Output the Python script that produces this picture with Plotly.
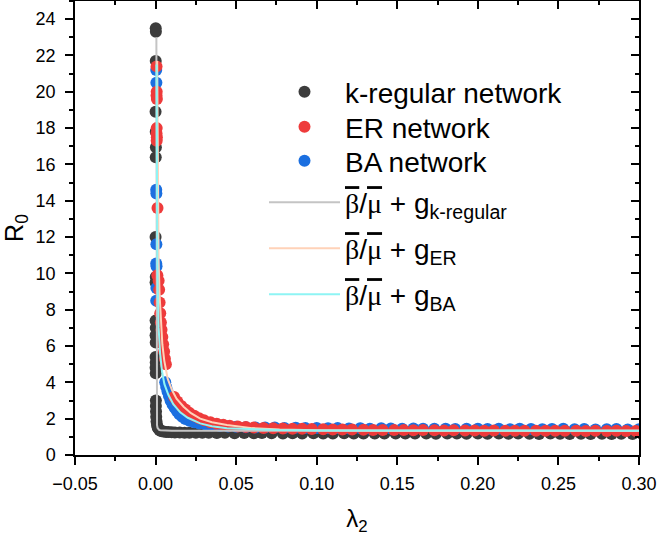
import plotly.graph_objects as go

# ---------------- data ----------------
kreg_x = [0.0001, 0.0002, 0.0001, 0.0000, 0.0001, 0.0002, 0.0001, 0.0000, 0.0001, 0.0000,
          0.0000, 0.0001, 0.0000, 0.0001, 0.0000, 0.0001, 0.0000, 0.0001,
          0.0002, 0.0002, 0.0003, 0.0004, 0.0006, 0.0009, 0.0013, 0.0018, 0.0024, 0.0030,
          0.0040, 0.0050, 0.0065, 0.0080, 0.0100, 0.0120, 0.0150, 0.0180, 0.0210, 0.0250, 0.0290,
          0.033, 0.038, 0.043, 0.049, 0.055, 0.061, 0.066, 0.072, 0.079, 0.085,
          0.091, 0.098, 0.104, 0.110, 0.117, 0.123, 0.129, 0.136, 0.142, 0.149,
          0.155, 0.161, 0.168, 0.174, 0.181, 0.187, 0.193, 0.200, 0.206, 0.213,
          0.219, 0.225, 0.232, 0.238, 0.245, 0.251, 0.257, 0.264, 0.270, 0.277,
          0.283, 0.289, 0.296, 0.302, 0.309]
kreg_y = [23.5, 23.3, 21.7, 18.9, 17.8, 16.95, 16.4, 12.0, 9.8, 9.5,
          7.4, 7.0, 6.6, 6.2, 5.4, 5.1, 4.8, 4.5,
          3.0, 2.7, 2.4, 2.1, 1.85, 1.65, 1.52, 1.44, 1.38, 1.34,
          1.31, 1.29, 1.27, 1.26, 1.25, 1.24, 1.24, 1.23, 1.23, 1.22, 1.22,
          1.22, 1.21, 1.22, 1.20, 1.21, 1.20, 1.21, 1.20, 1.19, 1.20,
          1.19, 1.20, 1.19, 1.18, 1.20, 1.19, 1.18, 1.19, 1.18, 1.19,
          1.18, 1.19, 1.18, 1.17, 1.19, 1.18, 1.17, 1.18, 1.17, 1.18,
          1.17, 1.18, 1.17, 1.16, 1.18, 1.17, 1.16, 1.17, 1.16, 1.17,
          1.16, 1.17, 1.16, 1.16, 1.15]

er_x = [0.0006, 0.0007, 0.0006, 0.0008, 0.0007, 0.0006, 0.0008, 0.0007, 0.0012, 0.0011,
        0.0019, 0.0022, 0.0025, 0.0029, 0.0033, 0.0037, 0.0042, 0.0047, 0.0053, 0.0058, 0.0064,
        0.0115, 0.0135, 0.0160, 0.0185, 0.0210, 0.0240, 0.0270, 0.0300, 0.0340, 0.0380,
        0.042, 0.046, 0.051, 0.056, 0.061, 0.067, 0.073, 0.079, 0.085, 0.091,
        0.097, 0.104, 0.110, 0.116, 0.122, 0.129, 0.135, 0.141, 0.148, 0.154,
        0.160, 0.166, 0.173, 0.179, 0.185, 0.192, 0.198, 0.204, 0.210, 0.217,
        0.223, 0.229, 0.236, 0.242, 0.248, 0.254, 0.261, 0.267, 0.273, 0.280,
        0.286, 0.292, 0.298, 0.305, 0.311]
er_y = [21.4, 20.0, 19.8, 19.6, 18.0, 17.7, 17.5, 17.3, 13.6, 9.9,
        9.6, 9.1, 8.4, 7.8, 7.3, 6.9, 6.5, 6.1, 5.7, 5.3, 5.0,
        3.2, 2.95, 2.7, 2.5, 2.32, 2.16, 2.03, 1.92, 1.80, 1.72,
        1.66, 1.61, 1.57, 1.54, 1.51, 1.49, 1.47, 1.46, 1.45, 1.44,
        1.43, 1.42, 1.41, 1.40, 1.40, 1.39, 1.38, 1.38, 1.37, 1.37,
        1.36, 1.37, 1.36, 1.35, 1.36, 1.35, 1.35, 1.34, 1.35, 1.34,
        1.34, 1.33, 1.34, 1.33, 1.33, 1.34, 1.33, 1.32, 1.33, 1.32,
        1.33, 1.32, 1.32, 1.33, 1.32]

ba_x = [0.0004, 0.0005, 0.0004, 0.0005, 0.0005, 0.0004, 0.0006, 0.0005, 0.0004,
        0.0060, 0.0066, 0.0074, 0.0083, 0.0093, 0.0105, 0.0118, 0.0132, 0.0148, 0.0165,
        0.0185, 0.0210, 0.0240, 0.0270, 0.0310, 0.0350, 0.0400, 0.0450, 0.0500, 0.0560,
        0.062, 0.068, 0.074, 0.080, 0.087, 0.093, 0.100, 0.107, 0.113, 0.120,
        0.127, 0.133, 0.140, 0.146, 0.153, 0.160, 0.166, 0.173, 0.180, 0.186,
        0.193, 0.200, 0.206, 0.213, 0.220, 0.226, 0.233, 0.240, 0.246, 0.253,
        0.260, 0.266, 0.273, 0.280, 0.286, 0.293, 0.300, 0.306]
ba_y = [21.2, 20.5, 14.6, 14.4, 11.6, 10.55, 10.4, 9.2, 8.5,
        4.0, 3.75, 3.5, 3.25, 3.0, 2.8, 2.6, 2.42, 2.25, 2.1,
        1.98, 1.88, 1.80, 1.74, 1.68, 1.64, 1.60, 1.57, 1.55, 1.53,
        1.52, 1.51, 1.52, 1.49, 1.50, 1.48, 1.49, 1.47, 1.48, 1.46,
        1.47, 1.45, 1.47, 1.46, 1.44, 1.46, 1.45, 1.44, 1.45, 1.43,
        1.45, 1.44, 1.43, 1.44, 1.42, 1.44, 1.43, 1.42, 1.43, 1.44,
        1.42, 1.43, 1.41, 1.42, 1.43, 1.41, 1.42, 1.41]

fit_kreg_x = [0.0005, 0.0006, 0.0007, 0.0009, 0.0012, 0.0016, 0.0022, 0.0030, 0.0050, 0.0100, 0.0500, 0.3100]
fit_kreg_y = [23.0, 3.0, 2.0, 1.65, 1.5, 1.42, 1.38, 1.36, 1.34, 1.33, 1.33, 1.33]

fit_er_x = [0.0010, 0.0014, 0.0019, 0.0025, 0.0033, 0.0042, 0.0054, 0.0075, 0.0102, 0.0130, 0.0174,
            0.0220, 0.0277, 0.0350, 0.0443, 0.0600, 0.0770, 0.1000, 0.1500, 0.2000, 0.3100]
fit_er_y = [21.7, 15.0, 10.7, 8.8, 7.06, 6.1, 5.2, 4.2, 3.58, 3.1, 2.66,
            2.3, 2.0, 1.8, 1.65, 1.48, 1.40, 1.36, 1.34, 1.33, 1.33]

fit_ba_x = [0.0006, 0.0008, 0.0011, 0.0019, 0.0028, 0.0040, 0.0055, 0.0080, 0.0110, 0.0153,
            0.0200, 0.0277, 0.0350, 0.0443, 0.0600, 0.0770, 0.1000, 0.2000, 0.3100]
fit_ba_y = [21.5, 14.0, 10.5, 7.0, 5.6, 4.6, 3.9, 3.3, 2.8, 2.35,
            2.05, 1.74, 1.58, 1.47, 1.41, 1.37, 1.35, 1.34, 1.34]

x_range = [-0.05, 0.30]
y_range = [0, 25]

# ---------------- styles ----------------
FONT = "Liberation Sans, Arial, sans-serif"
C_K, C_ER, C_BA = "#3c3c3c", "#ee3b3b", "#1b6fe0"
L_K, L_ER, L_BA = "#c4c4c4", "#ffd2b8", "#8ef4f4"


def fit_name(sub):
    ov = '<span style="text-decoration:overline;font-family:Liberation Serif">'
    return f'{ov}β</span>/{ov}μ</span> + g<sub>{sub}</sub>'


fig = go.Figure()
mk = dict(size=12, line=dict(width=0))
fig.add_trace(go.Scatter(x=kreg_x, y=kreg_y, mode="markers", name="k-regular network",
                         marker=dict(color=C_K, **mk), legend="legend"))
fig.add_trace(go.Scatter(x=ba_x, y=ba_y, mode="markers", name="BA network",
                         marker=dict(color=C_BA, **mk), legend="legend3"))
fig.add_trace(go.Scatter(x=er_x, y=er_y, mode="markers", name="ER network",
                         marker=dict(color=C_ER, **mk), legend="legend2"))
fig.add_trace(go.Scatter(x=fit_kreg_x, y=fit_kreg_y, mode="lines", name=fit_name("k-regular"),
                         line=dict(color=L_K, width=2), legend="legend4"))
fig.add_trace(go.Scatter(x=fit_er_x, y=fit_er_y, mode="lines", name=fit_name("ER"),
                         line=dict(color=L_ER, width=2), legend="legend5"))
fig.add_trace(go.Scatter(x=fit_ba_x, y=fit_ba_y, mode="lines", name=fit_name("BA"),
                         line=dict(color=L_BA, width=2), legend="legend6"))
# helper trace so the mirrored (top/right) axes are drawn
fig.add_trace(go.Scatter(x=[None], y=[None], xaxis="x2", yaxis="y2", showlegend=False,
                         hoverinfo="skip"))

axis_common = dict(showgrid=False, zeroline=False, showline=True, linecolor="black",
                   linewidth=1.5, tickcolor="black", tickwidth=1.5,
                   tickfont=dict(family=FONT, size=18, color="black"))


def leg(y):
    return dict(x=0.3351, y=y, xanchor="left", yanchor="top", bgcolor="rgba(0,0,0,0)",
                borderwidth=0, itemwidth=71, font=dict(family=FONT, size=28, color="black"))


fig.update_layout(
    width=659, height=536, autosize=False,
    margin=dict(l=75, r=20, t=1, b=81),
    paper_bgcolor="white", plot_bgcolor="white",
    font=dict(family=FONT, color="black"),
    xaxis=dict(range=x_range, dtick=0.05, tick0=0, tickformat=".2f", ticks="outside", ticklen=8,
               minor=dict(ticks="outside", ticklen=4, dtick=0.025, tickcolor="black", tickwidth=1.5),
               title=dict(text="λ<sub>2</sub>", font=dict(family=FONT, size=24), standoff=25),
               ticklabelstandoff=4, **axis_common),
    yaxis=dict(range=y_range, dtick=2, tick0=0, ticks="outside", ticklen=8,
               minor=dict(ticks="outside", ticklen=4, dtick=1, tickcolor="black", tickwidth=1.5),
               title=dict(text="R<sub>0</sub>", font=dict(family=FONT, size=25), standoff=10),
               ticklabelstandoff=6, **axis_common),
    xaxis2=dict(range=x_range, overlaying="x", side="top", anchor="y2", dtick=0.05, tick0=0,
                ticks="inside", ticklen=8, showticklabels=False,
                minor=dict(ticks="inside", ticklen=4, dtick=0.025, tickcolor="black", tickwidth=1.5),
                **axis_common),
    yaxis2=dict(range=y_range, overlaying="y", side="right", anchor="x2", dtick=2, tick0=0,
                ticks="inside", ticklen=8, showticklabels=False,
                minor=dict(ticks="inside", ticklen=4, dtick=1, tickcolor="black", tickwidth=1.5),
                **axis_common),
    legend=leg(0.8546),
    legend2=leg(0.7775),
    legend3=leg(0.7026),
    legend4=leg(0.6112),
    legend5=leg(0.5099),
    legend6=leg(0.4086),
    showlegend=True,
)

fig.write_html("out.html")
